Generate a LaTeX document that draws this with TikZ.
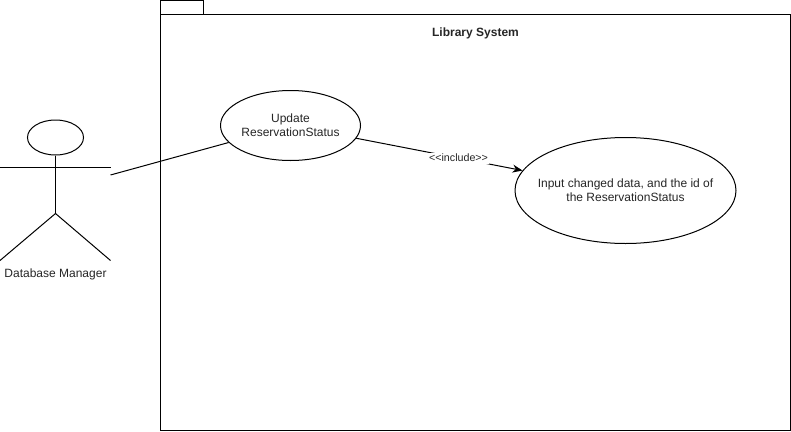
\documentclass[tikz,border=0pt]{standalone}
\usepackage{fontspec}
\setmainfont{Liberation Sans}
\usetikzlibrary{arrows.meta,shapes.geometric}
\tikzset{
 ln/.style={draw=black,line width=1pt},
 usecase/.style={ln,ellipse,inner sep=0pt,minimum width=#1},
 txt/.style={font=\fontsize{12}{14}\selectfont,align=center,inner sep=0pt,text=black!85},
 edgelabel/.style={font=\fontsize{10.7}{12}\selectfont,fill=white,inner sep=1.5pt,text=black!85},
}
\begin{document}
\begin{tikzpicture}[x=1pt,y=-1pt]
\useasboundingbox (0,0) rectangle (791,431);
\fill[white] (0,0) rectangle (791,431);
% package
\node[ln,rectangle,minimum width=630pt,minimum height=416pt,inner sep=0pt] (pkg) at (475.5,222.5) {};
\node[ln,rectangle,minimum width=43pt,minimum height=14pt,inner sep=0pt] (tab) at (182,7.5) {};
\node[txt,font=\fontsize{12}{14}\selectfont\bfseries] (title) at (475.5,33) {Library System};
% actor
\node[usecase=56pt,minimum height=35pt] (head) at (55.5,137.5) {};
\coordinate (hip) at (55.5,213.5);
\coordinate (armL) at (0,167);
\coordinate (armR) at (110.5,167);
\coordinate (footL) at (0,260.5);
\coordinate (footR) at (110.5,260.5);
\coordinate (actorEnd) at (110.5,175);
\draw[ln] (head.south) -- (hip);
\draw[ln] (armL) -- (armR);
\draw[ln] (footL) -- (hip) -- (footR);
\node[txt] (actorLabel) at (55.5,274.5) {Database Manager};
% use cases
\node[usecase=140pt,minimum height=70pt,label={[txt]center:Update\\ReservationStatus}] (uc1) at (290.5,125.5) {};
\node[usecase=221pt,minimum height=106pt,label={[txt]center:Input changed data, and the id of\\the ReservationStatus}] (uc2) at (625.5,190.5) {};
% connectors
\draw[ln] (actorEnd) -- (uc1);
\draw[ln,-{Stealth[length=10pt,width=8pt]}] (uc1) -- node[edgelabel,pos=0.615] (inc) {<{}<include>{}>} (uc2);
\end{tikzpicture}
\end{document}
